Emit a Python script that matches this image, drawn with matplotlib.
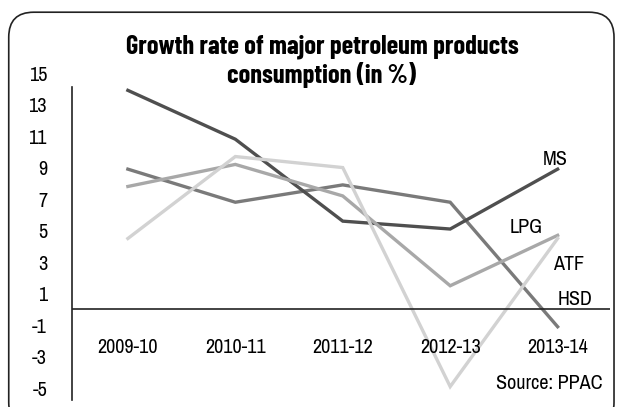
import matplotlib
matplotlib.use("Agg")
import matplotlib.pyplot as plt
from matplotlib.patches import FancyBboxPatch

# data
years = ['2009-10', '2010-11', '2011-12', '2012-13', '2013-14']
ms = [13.9, 10.8, 5.6, 5.1, 8.9]
hsd = [8.9, 6.8, 7.9, 6.8, -1.1]
lpg = [7.8, 9.2, 7.2, 1.5, 4.7]
atf = [4.5, 9.7, 9.0, -4.9, 4.5]
y_ticks = [15, 13, 11, 9, 7, 5, 3, 1, -1, -3, -5]

plt.rcParams['font.family'] = ['Archivo Narrow', 'DejaVu Sans']
plt.rcParams['axes.unicode_minus'] = False

fig = plt.figure(figsize=(6.24, 4.07), dpi=100)
ax = fig.add_axes([0.1154, 0.0172, 0.8626, 0.815])

# rounded frame around the whole chart
frame = FancyBboxPatch((0.014, -0.05), 0.97, 1.02, boxstyle="round,pad=0,rounding_size=0.04",
                       transform=fig.transFigure, fill=False, edgecolor='#222222', lw=1.2,
                       mutation_aspect=624 / 407)
fig.patches.append(frame)

x = list(range(len(years)))
ax.plot(x, hsd, color='#7a7a7a', lw=2.4, solid_joinstyle='miter')
ax.plot(x, ms, color='#4f4f4f', lw=2.4, solid_joinstyle='miter')
ax.plot(x, lpg, color='#a8a8a8', lw=2.4, solid_joinstyle='miter')
ax.plot(x, atf, color='#d2d2d2', lw=2.4, solid_joinstyle='miter')

ax.axhline(0, color='#222222', lw=1.2)

ax.set_xlim(-0.52, 4.49)
ax.set_ylim(-5.75, 15.3)
ax.set_xticks([])
ax.set_yticks(y_ticks)
ax.tick_params(axis='y', length=0, pad=18, labelsize=14.5)
for lab in ax.get_yticklabels():
    lab.set_horizontalalignment('right')

for s in ['top', 'right', 'bottom']:
    ax.spines[s].set_visible(False)
ax.spines['left'].set_bounds(-5.75, 14.1)
ax.spines['left'].set_color('#222222')
ax.spines['left'].set_linewidth(1.2)

# category labels sit inside the plot below the zero line
for i, yr in enumerate(years):
    ax.text(i, -2.45, yr, ha='center', va='center', fontsize=14.5)

# series labels
ax.text(3.86, 9.5, 'MS', fontsize=14.5, ha='left', va='center')
ax.text(3.55, 5.2, 'LPG', fontsize=14.5, ha='left', va='center')
ax.text(3.96, 2.85, 'ATF', fontsize=14.5, ha='left', va='center')
ax.text(4.0, 0.65, 'HSD', fontsize=14.5, ha='left', va='center')

ax.text(4.42, -4.7, 'Source: PPAC', fontsize=14.5, ha='right', va='center')

fig.text(0.516, 0.85, 'Growth rate of major petroleum products\nconsumption (in %)',
         ha='center', va='center', fontsize=19, fontweight='bold', linespacing=1.15,
         family=['Barlow Condensed', 'DejaVu Sans'])

fig.savefig('out.png', dpi=100)
